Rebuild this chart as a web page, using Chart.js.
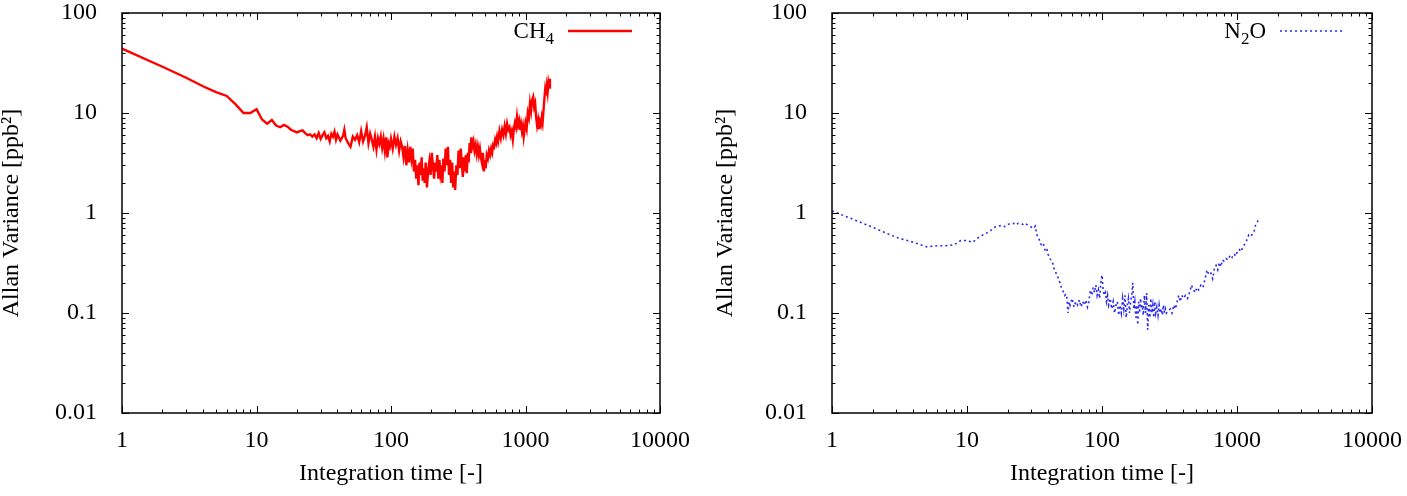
<!DOCTYPE html>
<html>
<head>
<meta charset="utf-8">
<script src="https://cdn.jsdelivr.net/npm/chart.js@4/dist/chart.umd.min.js"></script>
<style>
body { margin: 0; background: #fff; }
#wrap { position: relative; width: 1407px; height: 496px; }
canvas { position: absolute; top: 0; }
</style>
</head>
<body>
<div id="wrap">
  <canvas id="ch4" width="700" height="496" style="left:0"></canvas>
  <canvas id="n2o" width="707" height="496" style="left:700px"></canvas>
</div>
<script>
// axis ticks (decades)
const xTicks = [1, 10, 100, 1000, 10000];
const yTicks = [0.01, 0.1, 1, 10, 100];

// CH4 allan variance
const ch4Tau = [1,2,3,4,5,6,7,8,9,10,11,12,13,14,15,16,17,18,19,20,21,22,23,24,25,26,27,28,29,30,
  31,32,33,34,35,36,37,38,39,40,42,44,45,46,48,50,
  52,54,56,58,60,62,64,66,68,70,72,74,76,78,80,82,84,86,88,90,92,94,96,98,100,
  103,106,109,112,115,118,121,124,127,130,133,136,139,142,145,148,151,154,157,160,163,166,169,172,175,178,181,
  185,189,193,197,201,205,209,213,217,221,225,229,233,237,241,245,
  250,255,260,265,270,275,280,285,290,295,300,
  306,312,318,324,330,336,342,348,354,360,366,372,378,384,390,396,402,
  410,418,426,434,442,450,458,466,474,482,490,498,506,
  515,525,535,545,555,565,575,585,595,605,615,625,
  640,655,670,685,700,715,730,745,760,775,790,805,820,835,850,865,880,895,910,925,940,955,970,985,1000,
  1020,1040,1060,1080,1100,1120,1140,1160,1180,1200,1220,1240,1260,1280,1300,1320,1340,1360,1380,1400,1420,1440,1460,1480,1500,1520];
const ch4Var = [44,29,22.5,18.5,16.2,14.8,12.2,10,10,10.9,8.6,7.8,8.5,7.5,7.2,7.6,7.3,6.8,6.6,6.4,6.6,6.7,6.3,6.0,6.1,5.8,6.1,5.6,6.3,5.5,
  6.0,6.4,5.6,5.9,5.2,6.2,5.8,6.5,5.4,6.1,5.3,5.9,6.8,5.6,5.0,4.6,
  5.8,5.4,6.0,5.1,6.6,5.2,5.9,7.2,5.0,6.2,5.4,4.6,5.8,4.3,5.6,4.9,5.8,4.5,5.5,4.2,5.7,3.6,5.0,4.6,5.5,
  4.4,5.8,4.8,5.6,4.2,5.2,4.6,3.6,4.7,3.0,4.2,3.2,4.6,3.5,4.4,2.6,3.4,2.2,3.0,1.9,3.2,2.4,3.6,2.1,2.8,2.0,3.2,
  1.8,2.7,3.3,2.4,4.0,3.0,2.2,3.2,2.6,3.8,2.2,3.4,2.5,3.0,2.0,3.5,
  2.6,4.4,3.0,4.6,2.4,3.4,2.0,3.2,1.8,2.6,1.7,
  3.0,2.4,4.2,2.8,4.4,3.2,2.3,3.6,2.6,3.8,2.5,4.0,3.2,5.0,4.0,5.7,4.6,
  5.2,4.2,4.8,3.9,4.6,3.8,4.4,3.6,3.2,4.0,2.6,3.4,2.8,
  3.8,3.5,4.2,3.8,4.4,4.0,4.8,4.6,5.4,5.0,5.8,5.2,
  6.6,5.6,6.8,6.0,7.4,6.2,7.8,6.8,7.2,6.0,6.6,5.4,7.0,8.0,7.2,9.2,7.6,8.4,6.8,7.8,6.6,7.4,5.8,6.8,8.0,
  7.0,10.0,9.0,12.5,10.5,13.5,14.5,11.5,12.5,9.0,7.5,8.5,6.9,8.2,7.6,9.0,8.0,10.5,13.5,17.0,15.0,18.5,16.0,20.0,18.0,22.0];

// N2O allan variance
const n2oTau = [1,2,3,4,5,6,7,8,9,10,11,12,13,14,15,16,17,18,19,20,21,22,23,24,25,26,27,28,29,30,
  31,32,33,34,35,36,37,38,39,40,41,42,43,44,45,46,47,48,49,50,51,52,53,54,55,56,57,58,
  60,62,64,66,68,70,72,74,76,78,80,
  82,84,86,88,90,92,94,96,98,100,
  102,104,106,108,110,112,
  115,118,121,124,127,130,133,136,139,142,145,148,151,154,157,160,163,166,169,172,175,178,181,184,187,190,193,196,199,
  202,206,210,214,218,222,226,230,234,238,242,246,250,
  255,260,265,270,275,280,285,290,295,300,
  310,320,330,340,350,360,370,380,390,400,
  415,430,445,460,475,490,505,520,
  540,560,580,600,620,640,660,680,700,720,740,760,780,800,
  830,860,890,920,950,980,1010,
  1040,1070,1100,1130,1160,1190,1220,1250,1280,1310,1340,1370,1400,1430,1460];
const n2oVar = [1.05,0.72,0.57,0.51,0.46,0.47,0.47,0.48,0.53,0.53,0.51,0.56,0.6,0.63,0.67,0.72,0.74,0.75,0.73,0.77,0.78,0.79,0.76,0.79,0.78,0.77,0.79,0.76,0.74,0.72,
  0.7,0.74,0.6,0.56,0.5,0.46,0.48,0.42,0.44,0.38,0.36,0.33,0.32,0.28,0.27,0.24,0.23,0.21,0.2,0.18,0.17,0.16,0.15,0.155,0.14,0.1,0.13,0.12,
  0.14,0.115,0.13,0.12,0.135,0.115,0.13,0.12,0.135,0.115,0.13,
  0.17,0.15,0.18,0.16,0.19,0.15,0.17,0.14,0.2,0.24,
  0.17,0.15,0.16,0.13,0.15,0.12,
  0.14,0.11,0.13,0.1,0.12,0.13,0.095,0.12,0.1,0.14,0.11,0.15,0.09,0.12,0.14,0.1,0.13,0.15,0.2,0.11,0.13,0.09,0.12,0.076,0.13,0.1,0.14,0.11,0.12,
  0.095,0.15,0.1,0.158,0.068,0.12,0.09,0.14,0.1,0.12,0.09,0.13,0.1,
  0.115,0.095,0.12,0.1,0.11,0.095,0.12,0.1,0.11,0.1,
  0.105,0.11,0.1,0.12,0.11,0.13,0.15,0.13,0.15,0.14,
  0.15,0.14,0.16,0.19,0.17,0.16,0.18,0.17,
  0.19,0.18,0.22,0.27,0.24,0.25,0.22,0.28,0.3,0.27,0.32,0.29,0.34,0.33,
  0.35,0.34,0.38,0.36,0.39,0.37,0.42,
  0.43,0.41,0.45,0.48,0.5,0.55,0.6,0.58,0.6,0.62,0.66,0.75,0.78,0.84,0.88];

const FONT = '"Liberation Serif", "Times New Roman", serif';

// gnuplot-like frame: box, inward ticks on all four sides, legend with subscript
const framePlugin = {
  id: 'frame',
  afterDatasetsDraw(chart, args, opts) {
    const { ctx, chartArea: a, scales: { x, y } } = chart;
    const marks = (majors) => {
      let out = [];
      majors.forEach((m, i) => {
        out.push([m, true]);
        if (i < majors.length - 1) for (let k = 2; k <= 9; k++) out.push([m * k, false]);
      });
      return out;
    };
    ctx.save();
    ctx.strokeStyle = '#000';
    ctx.lineWidth = 1;
    ctx.beginPath();
    marks(xTicks).forEach(([v, major]) => {
      const px = Math.round(x.getPixelForValue(v)) + 0.5;
      const len = major ? 7 : 3.5;
      ctx.moveTo(px, a.bottom); ctx.lineTo(px, a.bottom - len);
      ctx.moveTo(px, a.top); ctx.lineTo(px, a.top + len);
    });
    marks(yTicks).forEach(([v, major]) => {
      const py = Math.round(y.getPixelForValue(v)) + 0.5;
      const len = major ? 7 : 3.5;
      ctx.moveTo(a.left, py); ctx.lineTo(a.left + len, py);
      ctx.moveTo(a.right, py); ctx.lineTo(a.right - len, py);
    });
    ctx.stroke();
    ctx.lineWidth = 1.5;
    ctx.strokeRect(a.left, a.top, a.width, a.height);

    // legend
    const ds = chart.data.datasets[0];
    const [base, sub, tail] = opts.parts;
    const lineEnd = a.right - 28, lineStart = lineEnd - 64, ly = a.top + 18;
    ctx.strokeStyle = ds.borderColor;
    ctx.lineWidth = ds.borderWidth;
    ctx.setLineDash(ds.borderDash || []);
    ctx.beginPath();
    ctx.moveTo(lineStart, ly); ctx.lineTo(lineEnd, ly);
    ctx.stroke();
    ctx.setLineDash([]);
    ctx.fillStyle = '#000';
    ctx.textBaseline = 'alphabetic';
    ctx.textAlign = 'left';
    const big = '23px ' + FONT, small = '17px ' + FONT;
    ctx.font = big; const wBase = ctx.measureText(base).width, wTail = ctx.measureText(tail).width;
    ctx.font = small; const wSub = ctx.measureText(sub).width;
    let tx = lineStart - 14 - (wBase + wSub + wTail);
    const baseY = ly + 7;
    ctx.font = big; ctx.fillText(base, tx, baseY); tx += wBase;
    ctx.font = small; ctx.fillText(sub, tx, baseY + 6); tx += wSub;
    ctx.font = big; ctx.fillText(tail, tx, baseY);
    ctx.restore();
  }
};

function makeChart(id, tau, vals, style, parts, yAxisWidth, rightPad, yTitlePad) {
  return new Chart(document.getElementById(id), {
    type: 'line',
    data: {
      datasets: [{
        label: parts.join(''),
        data: tau.map((t, i) => ({ x: t, y: vals[i] })),
        borderColor: style.color,
        borderWidth: style.width,
        borderDash: style.dash,
        pointRadius: 0,
        tension: 0,
        fill: false
      }]
    },
    options: {
      responsive: false,
      animation: false,
      devicePixelRatio: 1,
      layout: { padding: { top: 13, right: rightPad, left: 0, bottom: 0 } },
      plugins: {
        legend: { display: false },
        title: { display: false },
        tooltip: { enabled: false },
        frame: { parts }
      },
      scales: {
        x: {
          type: 'logarithmic',
          min: 1, max: 10000,
          grid: { display: false },
          border: { display: false },
          afterBuildTicks: s => { s.ticks = xTicks.map(v => ({ value: v })); },
          afterFit: s => { s.height = 83; s.paddingLeft = 0; s.paddingRight = 0; },
          ticks: {
            color: '#000', padding: 8, maxRotation: 0, autoSkip: false,
            font: { family: FONT, size: 24, lineHeight: 1 },
            callback: v => String(v)
          },
          title: {
            display: true, text: 'Integration time [-]', color: '#000',
            font: { family: FONT, size: 24, lineHeight: 1.2 },
            padding: { top: 0, bottom: 7.6 }
          }
        },
        y: {
          type: 'logarithmic',
          min: 0.01, max: 100,
          grid: { display: false },
          border: { display: false },
          afterBuildTicks: s => { s.ticks = yTicks.map(v => ({ value: v })); },
          afterFit: s => { s.width = yAxisWidth; s.paddingTop = 0; s.paddingBottom = 0; },
          ticks: {
            color: '#000', padding: 17, autoSkip: false,
            font: { family: FONT, size: 24, lineHeight: 1 },
            callback: v => String(v)
          },
          title: {
            display: true, text: 'Allan Variance [ppb²]', color: '#000',
            font: { family: FONT, size: 24, lineHeight: 1 },
            padding: { top: yTitlePad, bottom: 0 }
          }
        }
      }
    },
    plugins: [framePlugin]
  });
}

makeChart('ch4', ch4Tau, ch4Var, { color: '#ff0000', width: 2.4, dash: [] }, ['CH', '4', ''], 122, 40, 0);
makeChart('n2o', n2oTau, n2oVar, { color: '#2a2af0', width: 1.6, dash: [2, 3] }, ['N', '2', 'O'], 132, 35, 14);
</script>
</body>
</html>
